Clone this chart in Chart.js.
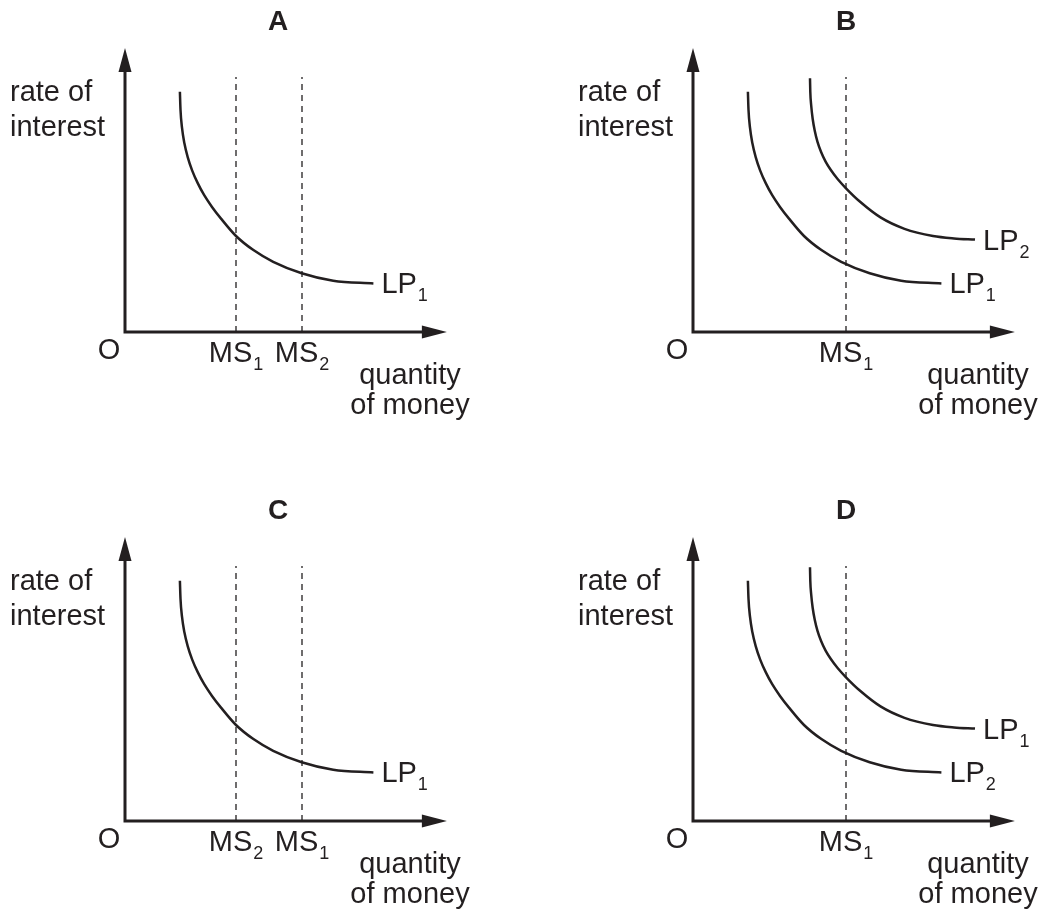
<!DOCTYPE html>
<html>
<head>
<meta charset="utf-8">
<script src="https://cdn.jsdelivr.net/npm/chart.js@4"></script>
<style>
  body { margin: 0; background: #fff; }
  #board { position: relative; width: 1043px; height: 916px; }
  #board canvas { position: absolute; }
</style>
</head>
<body>
<div id="board">
  <canvas id="panelA" width="475" height="427" style="left:0;top:0"></canvas>
  <canvas id="panelB" width="475" height="427" style="left:568px;top:0"></canvas>
  <canvas id="panelC" width="475" height="427" style="left:0;top:489px"></canvas>
  <canvas id="panelD" width="475" height="427" style="left:568px;top:489px"></canvas>
</div>
<script>
// liquidity preference curves (quantity of money, rate of interest)
const lp1Quantity = [18.3, 18.5, 19.0, 19.8, 20.9, 22.4, 24.2, 26.4, 29.0, 32.0, 37.0, 42.8, 49.4, 58.9, 69.4, 82.8];
const lp1Rate = [80.1, 74.1, 68.1, 62.9, 58.3, 53.8, 49.7, 45.6, 41.7, 37.8, 32.0, 27.3, 23.4, 19.6, 17.1, 16.2];
const lp2Quantity = [39.0, 39.1, 39.4, 39.9, 40.6, 41.5, 42.7, 44.2, 46.0, 48.2, 51.0, 55.7, 62.5, 70.5, 80.0, 87.0, 94.0];
const lp2Rate = [84.6, 80.0, 75.5, 71.0, 67.0, 63.4, 60.0, 56.8, 53.9, 51.0, 47.9, 43.4, 38.2, 34.4, 32.0, 31.2, 30.8];

// money supply lines
const msSingle = [51];
const msPair = [37, 59];
const msTop = 85;

// axis extent
const axisQuantityEnd = 107.3;
const axisRateEnd = 94.7;

const panelTitles = ['A', 'B', 'C', 'D'];

const ink = '#231f20';
const fontFamily = '"Liberation Sans", Arial, Helvetica, sans-serif';

function toPoints(xs, ys) {
    return xs.map((v, i) => ({ x: v, y: ys[i] }));
}

function curveDataset(xs, ys, sub) {
    return {
        data: toPoints(xs, ys),
        borderColor: ink,
        borderWidth: 2.5,
        pointRadius: 0,
        cubicInterpolationMode: 'monotone',
        fill: false,
        labelSub: sub
    };
}

function msDataset(q, sub) {
    return {
        data: [{ x: q, y: 0 }, { x: q, y: msTop }],
        borderColor: ink,
        borderWidth: 1.3,
        borderDash: [6, 5],
        pointRadius: 0,
        fill: false,
        msSub: sub
    };
}

function drawSubText(ctx, main, sub, x, baseline, align) {
    ctx.font = '29px ' + fontFamily;
    const mainW = ctx.measureText(main).width;
    ctx.font = '18px ' + fontFamily;
    const subW = ctx.measureText(sub).width;
    let left = x;
    if (align === 'center') left = x - (mainW + 1 + subW) / 2;
    ctx.textAlign = 'left';
    ctx.font = '29px ' + fontFamily;
    ctx.fillText(main, left, baseline);
    ctx.font = '18px ' + fontFamily;
    ctx.fillText(sub, left + mainW + 1, baseline + 8);
}

const diagramPlugin = {
    id: 'diagram',
    beforeDatasetsDraw(chart) {
        const { ctx, scales: { x, y } } = chart;
        const ox = x.getPixelForValue(0);
        const oy = y.getPixelForValue(0);
        const tipX = x.getPixelForValue(axisQuantityEnd);
        const tipY = y.getPixelForValue(axisRateEnd);
        ctx.save();
        ctx.strokeStyle = ink;
        ctx.fillStyle = ink;
        ctx.lineWidth = 3;
        ctx.lineJoin = 'miter';
        ctx.beginPath();
        ctx.moveTo(ox, tipY + 18);
        ctx.lineTo(ox, oy);
        ctx.lineTo(tipX - 18, oy);
        ctx.stroke();
        // arrow heads
        ctx.beginPath();
        ctx.moveTo(ox, tipY);
        ctx.lineTo(ox - 6.5, tipY + 24);
        ctx.lineTo(ox + 6.5, tipY + 24);
        ctx.closePath();
        ctx.fill();
        ctx.beginPath();
        ctx.moveTo(tipX, oy);
        ctx.lineTo(tipX - 25, oy - 6.5);
        ctx.lineTo(tipX - 25, oy + 6.5);
        ctx.closePath();
        ctx.fill();
        ctx.restore();
    },
    afterDatasetsDraw(chart, args, opts) {
        const { ctx, scales: { x, y } } = chart;
        const ox = x.getPixelForValue(0);
        const oy = y.getPixelForValue(0);
        ctx.save();
        ctx.fillStyle = ink;
        ctx.textBaseline = 'alphabetic';

        // panel letter
        ctx.font = 'bold 28px ' + fontFamily;
        ctx.textAlign = 'center';
        ctx.fillText(opts.title, ox + 153, oy - 302);

        // axis titles
        ctx.font = '29px ' + fontFamily;
        ctx.textAlign = 'left';
        ctx.fillText('rate of', ox - 115, oy - 231);
        ctx.fillText('interest', ox - 115, oy - 196);
        ctx.textAlign = 'center';
        ctx.fillText('O', ox - 16, oy + 27);
        ctx.fillText('quantity', ox + 285, oy + 52);
        ctx.fillText('of money', ox + 285, oy + 82);

        chart.data.datasets.forEach(ds => {
            if (ds.msSub) {
                const px = x.getPixelForValue(ds.data[0].x);
                drawSubText(ctx, 'MS', ds.msSub, px, oy + 30, 'center');
            }
            if (ds.labelSub) {
                const last = ds.data[ds.data.length - 1];
                const px = x.getPixelForValue(last.x);
                const py = y.getPixelForValue(last.y);
                drawSubText(ctx, 'LP', ds.labelSub, px + 8, py + 10, 'left');
            }
        });
        ctx.restore();
    }
};

function makePanel(canvasId, title, datasets) {
    return new Chart(document.getElementById(canvasId), {
        type: 'line',
        data: { datasets },
        options: {
            responsive: false,
            animation: false,
            layout: { padding: { left: 125, right: 20, top: 32, bottom: 95 } },
            scales: {
                x: { type: 'linear', min: 0, max: 110, display: false },
                y: { type: 'linear', min: 0, max: 100, display: false }
            },
            plugins: {
                legend: { display: false },
                tooltip: { enabled: false },
                diagram: { title }
            }
        },
        plugins: [diagramPlugin]
    });
}

makePanel('panelA', panelTitles[0], [
    msDataset(msPair[0], '1'),
    msDataset(msPair[1], '2'),
    curveDataset(lp1Quantity, lp1Rate, '1')
]);

makePanel('panelB', panelTitles[1], [
    msDataset(msSingle[0], '1'),
    curveDataset(lp1Quantity, lp1Rate, '1'),
    curveDataset(lp2Quantity, lp2Rate, '2')
]);

makePanel('panelC', panelTitles[2], [
    msDataset(msPair[0], '2'),
    msDataset(msPair[1], '1'),
    curveDataset(lp1Quantity, lp1Rate, '1')
]);

makePanel('panelD', panelTitles[3], [
    msDataset(msSingle[0], '1'),
    curveDataset(lp1Quantity, lp1Rate, '2'),
    curveDataset(lp2Quantity, lp2Rate, '1')
]);
</script>
</body>
</html>
